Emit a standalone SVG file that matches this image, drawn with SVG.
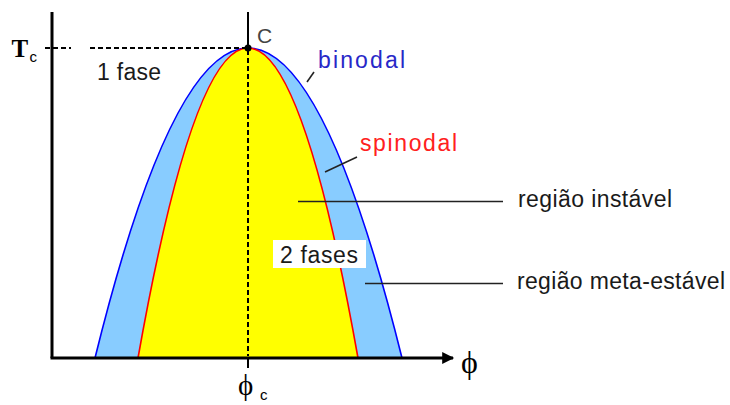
<svg xmlns="http://www.w3.org/2000/svg" width="730" height="405" viewBox="0 0 730 405">
<defs>
<style>
.lbl{font-family:"Liberation Sans",Arial,sans-serif;font-size:23px;fill:#1a1a1a}
.ser{font-family:"Liberation Serif","DejaVu Serif","Times New Roman",serif;fill:#000}
.sub{font-family:"Liberation Sans",Arial,sans-serif;fill:#000}
.lead{stroke:#222;stroke-width:1.6;fill:none}
.axis{stroke:#000;stroke-width:3;fill:none}
.dash{stroke:#000;stroke-width:2;stroke-dasharray:5,3;fill:none}
</style>
<marker id="arr" viewBox="0 0 10 10" refX="9" refY="5" markerWidth="4.5" markerHeight="4" orient="auto" markerUnits="strokeWidth">
<path d="M0,0 L10,5 L0,10 z" fill="#000"/>
</marker>
</defs>
<rect width="730" height="405" fill="#fff"/>
<g id="binodal-region">
<path d="M95,358 Q248,-262 402,358 Z" fill="#88CCFF" stroke="none"/>
<path d="M95,358 Q248,-262 402,358" fill="none" stroke="#0000FF" stroke-width="1.6"/>
</g>
<g id="spinodal-region">
<path d="M138,358 Q248,-262 358,358 Z" fill="#FFFF00" stroke="none"/>
<path d="M138,358 Q248,-262 358,358" fill="none" stroke="#FF0000" stroke-width="1.6"/>
</g>
<g id="connectors">
<line class="axis" x1="52" y1="12" x2="52" y2="358"/>
<line class="axis" x1="50.5" y1="358" x2="453" y2="358" marker-end="url(#arr)"/>
<line x1="248" y1="12" x2="248" y2="48" stroke="#000" stroke-width="2"/>
<line class="dash" x1="248" y1="50" x2="248" y2="356"/>
<line x1="248" y1="358" x2="248" y2="368" stroke="#000" stroke-width="2"/>
<line class="dash" x1="45" y1="48" x2="71" y2="48"/>
<line class="dash" x1="90" y1="48" x2="246" y2="48"/>
<line class="lead" x1="307" y1="82" x2="314" y2="72"/>
<line class="lead" x1="325" y1="172" x2="357" y2="157"/>
<line class="lead" x1="298" y1="201.5" x2="503" y2="201.5"/>
<line class="lead" x1="365" y1="283.5" x2="503" y2="283.5"/>
</g>
<g id="critical-point">
<circle cx="248" cy="48" r="3.5" fill="#000"/>
<text x="257" y="43" font-family="Liberation Sans,Arial,sans-serif" font-size="21" fill="#444">C</text>
</g>
<g id="axis-labels">
<text class="ser" x="11.5" y="57" font-size="25" font-weight="bold">T</text>
<text class="sub" x="29.5" y="62" font-size="15">c</text>
<text class="ser" x="461" y="373" font-size="32">ϕ</text>
<text class="ser" x="238" y="395" font-size="29">ϕ</text>
<text class="sub" x="260" y="400" font-size="15">c</text>
</g>
<g id="label-1fase"><text class="lbl" x="97" y="80" textLength="64">1 fase</text></g>
<g id="label-binodal"><text class="lbl" x="318" y="68" textLength="87" style="fill:#2828C8">binodal</text></g>
<g id="label-spinodal"><text class="lbl" x="360" y="151" textLength="97" style="fill:#FF2020">spinodal</text></g>
<g id="label-2fases">
<rect x="273" y="240" width="93" height="28" fill="#fff"/>
<text class="lbl" x="280" y="263" textLength="78">2 fases</text>
</g>
<g id="label-instavel"><text class="lbl" x="518" y="207" textLength="154">região instável</text></g>
<g id="label-metaestavel"><text class="lbl" x="517" y="289" textLength="208">região meta-estável</text></g>
</svg>
